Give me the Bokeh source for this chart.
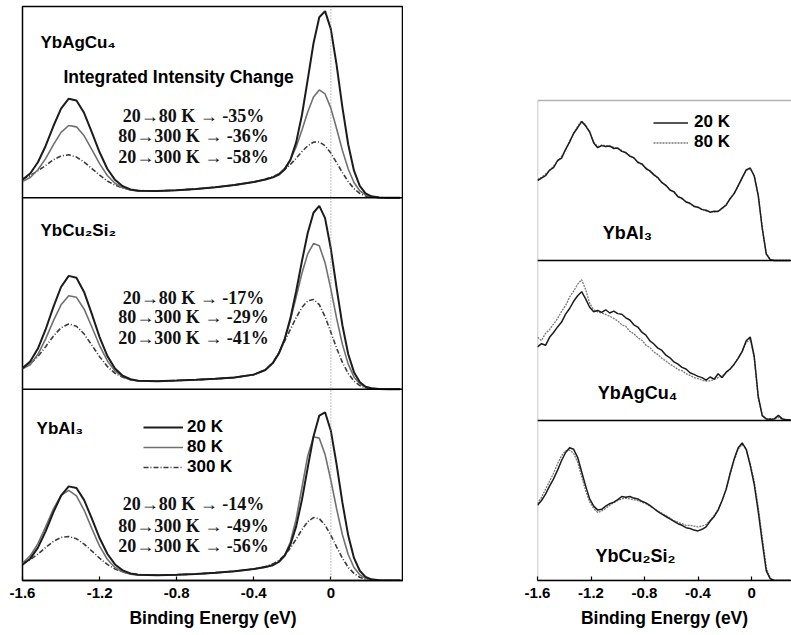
from bokeh.plotting import figure
from bokeh.layouts import row
from bokeh.models import Range1d, Span, Label, Legend, LegendItem, FixedTicker, BoxAnnotation
from bokeh.embed import file_html
from bokeh.resources import INLINE

# ---------------- data: left panel (model curves, intensity in panel units) -------------
energy_left = [-1.60, -1.56, -1.52, -1.48, -1.44, -1.40, -1.36, -1.32, -1.28, -1.24, -1.20, -1.16,
               -1.12, -1.08, -1.04, -1.00, -0.90, -0.80, -0.70, -0.60, -0.50, -0.40, -0.34,
               -0.30, -0.27, -0.24, -0.21, -0.18, -0.15, -0.12, -0.09, -0.06, -0.03, 0.00, 0.03,
               0.06, 0.09, 0.12, 0.15, 0.18, 0.21, 0.25, 0.30, 0.36]

agcu4_20K = [0.095, 0.127, 0.186, 0.271, 0.374, 0.466, 0.518, 0.509, 0.443, 0.342, 0.238, 0.152,
             0.094, 0.061, 0.044, 0.037, 0.036, 0.040, 0.046, 0.055, 0.067, 0.083, 0.096,
             0.107, 0.121, 0.148, 0.198, 0.290, 0.433, 0.618, 0.808, 0.944, 0.976, 0.882, 0.694,
             0.473, 0.280, 0.142, 0.062, 0.023, 0.008, 0.002, 0.0, 0.0]
agcu4_80K = [0.085, 0.106, 0.147, 0.205, 0.277, 0.342, 0.378, 0.371, 0.324, 0.252, 0.179, 0.117,
             0.076, 0.053, 0.041, 0.036, 0.036, 0.040, 0.046, 0.055, 0.067, 0.083, 0.096,
             0.109, 0.126, 0.154, 0.199, 0.266, 0.354, 0.449, 0.527, 0.564, 0.543, 0.469, 0.361,
             0.248, 0.151, 0.080, 0.037, 0.015, 0.006, 0.002, 0.0, 0.0]
agcu4_300K = [0.098, 0.116, 0.142, 0.169, 0.199, 0.219, 0.225, 0.213, 0.187, 0.153, 0.119, 0.088,
              0.066, 0.051, 0.042, 0.038, 0.036, 0.040, 0.046, 0.055, 0.067, 0.083, 0.098,
              0.111, 0.126, 0.148, 0.174, 0.207, 0.242, 0.272, 0.291, 0.292, 0.272, 0.234, 0.184,
              0.132, 0.085, 0.048, 0.023, 0.010, 0.005, 0.002, 0.0, 0.0]

cu2si2_20K = [0.110, 0.144, 0.212, 0.312, 0.429, 0.534, 0.592, 0.582, 0.507, 0.392, 0.272, 0.174,
              0.108, 0.070, 0.052, 0.044, 0.042, 0.045, 0.049, 0.054, 0.061, 0.076, 0.100,
              0.138, 0.186, 0.260, 0.370, 0.512, 0.669, 0.816, 0.922, 0.958, 0.894, 0.734, 0.528,
              0.334, 0.184, 0.089, 0.037, 0.013, 0.005, 0.001, 0.0, 0.0]
cu2si2_80K = [0.106, 0.128, 0.182, 0.263, 0.357, 0.441, 0.488, 0.480, 0.418, 0.325, 0.228, 0.149,
              0.095, 0.065, 0.049, 0.043, 0.042, 0.045, 0.049, 0.054, 0.061, 0.076, 0.100,
              0.138, 0.187, 0.260, 0.361, 0.482, 0.606, 0.707, 0.761, 0.749, 0.661, 0.523, 0.370,
              0.234, 0.131, 0.064, 0.028, 0.011, 0.004, 0.001, 0.0, 0.0]
cu2si2_300K = [0.112, 0.132, 0.171, 0.222, 0.277, 0.321, 0.341, 0.329, 0.288, 0.230, 0.170, 0.119,
               0.083, 0.062, 0.050, 0.044, 0.042, 0.045, 0.049, 0.054, 0.061, 0.076, 0.101,
               0.140, 0.190, 0.251, 0.312, 0.374, 0.427, 0.461, 0.469, 0.442, 0.379, 0.298, 0.214,
               0.140, 0.082, 0.042, 0.019, 0.007, 0.003, 0.001, 0.0, 0.0]

al3_20K = [0.082, 0.114, 0.172, 0.257, 0.356, 0.443, 0.492, 0.483, 0.420, 0.323, 0.222, 0.140,
           0.084, 0.053, 0.037, 0.030, 0.028, 0.030, 0.034, 0.040, 0.048, 0.060, 0.070,
           0.081, 0.098, 0.129, 0.187, 0.283, 0.422, 0.590, 0.753, 0.862, 0.879, 0.783, 0.606,
           0.407, 0.236, 0.118, 0.051, 0.019, 0.006, 0.001, 0.0, 0.0]
al3_80K = [0.091, 0.129, 0.193, 0.280, 0.373, 0.445, 0.471, 0.442, 0.367, 0.271, 0.180, 0.111,
           0.068, 0.044, 0.033, 0.029, 0.028, 0.030, 0.034, 0.040, 0.048, 0.060, 0.070,
           0.079, 0.096, 0.130, 0.201, 0.321, 0.486, 0.651, 0.751, 0.744, 0.659, 0.524, 0.374,
           0.239, 0.136, 0.068, 0.030, 0.012, 0.004, 0.0, 0.0, 0.0]
al3_300K = [0.089, 0.109, 0.138, 0.172, 0.204, 0.225, 0.230, 0.218, 0.190, 0.154, 0.117, 0.084,
            0.060, 0.045, 0.036, 0.031, 0.028, 0.030, 0.034, 0.040, 0.048, 0.060, 0.073,
            0.087, 0.105, 0.132, 0.170, 0.216, 0.266, 0.307, 0.329, 0.323, 0.290, 0.236, 0.175,
            0.117, 0.069, 0.037, 0.017, 0.007, 0.002, 0.0, 0.0, 0.0]

# ---------------- data: right panel (measured spectra) ----------------
energy_right = [-1.60, -1.57, -1.54, -1.51, -1.48, -1.45, -1.42, -1.39, -1.36, -1.33,
                -1.30, -1.27, -1.24, -1.21, -1.18, -1.15, -1.12, -1.09, -1.06, -1.03,
                -1.00, -0.97, -0.94, -0.91, -0.88, -0.85, -0.82, -0.79, -0.76, -0.73,
                -0.70, -0.67, -0.64, -0.61, -0.58, -0.55, -0.52, -0.49, -0.46, -0.43,
                -0.40, -0.37, -0.34, -0.31, -0.28, -0.25, -0.22, -0.19, -0.16, -0.13,
                -0.10, -0.07, -0.04, -0.01, 0.02, 0.05, 0.08, 0.11, 0.14, 0.17,
                0.20, 0.23, 0.26, 0.29]

spec_al3_20K = [0.500, 0.515, 0.530, 0.565, 0.580, 0.625, 0.640, 0.695, 0.740, 0.795,
                0.830, 0.868, 0.840, 0.805, 0.735, 0.705, 0.718, 0.712, 0.716, 0.700,
                0.703, 0.682, 0.675, 0.652, 0.643, 0.612, 0.604, 0.575, 0.560, 0.535,
                0.518, 0.486, 0.470, 0.440, 0.430, 0.398, 0.389, 0.366, 0.358, 0.338,
                0.333, 0.318, 0.314, 0.302, 0.308, 0.306, 0.328, 0.346, 0.388, 0.418,
                0.468, 0.518, 0.566, 0.578, 0.528, 0.405, 0.200, 0.040, 0.005, 0.0,
                0.0, 0.0, 0.0, 0.0]
spec_al3_80K = [0.505, 0.520, 0.540, 0.560, 0.590, 0.620, 0.650, 0.690, 0.748, 0.790,
                0.838, 0.872, 0.848, 0.800, 0.742, 0.712, 0.722, 0.718, 0.712, 0.708,
                0.698, 0.688, 0.670, 0.657, 0.638, 0.618, 0.598, 0.580, 0.556, 0.540,
                0.512, 0.490, 0.466, 0.445, 0.425, 0.402, 0.384, 0.370, 0.353, 0.342,
                0.330, 0.322, 0.310, 0.306, 0.304, 0.310, 0.322, 0.350, 0.384, 0.422,
                0.464, 0.515, 0.562, 0.575, 0.530, 0.410, 0.205, 0.045, 0.006, 0.0,
                0.0, 0.0, 0.0, 0.0]

spec_agcu4_20K = [0.460, 0.480, 0.470, 0.520, 0.550, 0.585, 0.615, 0.665, 0.700, 0.745,
                  0.780, 0.805, 0.760, 0.708, 0.680, 0.688, 0.676, 0.692, 0.672, 0.684,
                  0.668, 0.664, 0.642, 0.628, 0.598, 0.584, 0.552, 0.534, 0.498, 0.478,
                  0.452, 0.438, 0.408, 0.392, 0.366, 0.352, 0.332, 0.322, 0.298, 0.288,
                  0.276, 0.268, 0.252, 0.272, 0.258, 0.292, 0.268, 0.302, 0.322, 0.352,
                  0.388, 0.432, 0.498, 0.522, 0.400, 0.150, 0.030, 0.010, 0.008, 0.010,
                  0.032, 0.010, 0.005, 0.005]
spec_agcu4_80K = [0.520, 0.500, 0.545, 0.568, 0.602, 0.638, 0.682, 0.718, 0.772, 0.808,
                  0.852, 0.880, 0.818, 0.732, 0.692, 0.678, 0.672, 0.662, 0.652, 0.638,
                  0.622, 0.598, 0.588, 0.558, 0.542, 0.518, 0.502, 0.472, 0.456, 0.428,
                  0.412, 0.388, 0.372, 0.352, 0.338, 0.318, 0.312, 0.292, 0.282, 0.268,
                  0.262, 0.252, 0.246, 0.248, 0.256, 0.268, 0.278, 0.298, 0.322, 0.352,
                  0.392, 0.432, 0.488, 0.508, 0.390, 0.140, 0.030, 0.010, 0.012, 0.008,
                  0.020, 0.008, 0.005, 0.005]

spec_cu2si2_20K = [0.470, 0.500, 0.540, 0.590, 0.635, 0.690, 0.750, 0.800, 0.830, 0.820,
                   0.770, 0.680, 0.590, 0.510, 0.465, 0.440, 0.445, 0.465, 0.480, 0.490,
                   0.505, 0.525, 0.520, 0.525, 0.515, 0.510, 0.495, 0.485, 0.470, 0.450,
                   0.430, 0.415, 0.400, 0.385, 0.370, 0.355, 0.345, 0.330, 0.325, 0.315,
                   0.310, 0.320, 0.335, 0.370, 0.400, 0.440, 0.500, 0.570, 0.670, 0.760,
                   0.830, 0.860, 0.820, 0.720, 0.600, 0.430, 0.240, 0.060, 0.010, 0.0,
                   0.0, 0.0, 0.0, 0.0]
spec_cu2si2_80K = [0.480, 0.520, 0.570, 0.620, 0.670, 0.730, 0.780, 0.810, 0.815, 0.795,
                   0.740, 0.650, 0.560, 0.490, 0.450, 0.425, 0.435, 0.450, 0.470, 0.485,
                   0.500, 0.510, 0.515, 0.510, 0.505, 0.500, 0.490, 0.480, 0.465, 0.450,
                   0.435, 0.420, 0.405, 0.390, 0.375, 0.365, 0.355, 0.345, 0.345, 0.340,
                   0.335, 0.340, 0.350, 0.375, 0.405, 0.445, 0.500, 0.570, 0.665, 0.750,
                   0.820, 0.850, 0.820, 0.730, 0.620, 0.460, 0.270, 0.080, 0.015, 0.0,
                   0.0, 0.0, 0.0, 0.0]

tick_values = [-1.6, -1.2, -0.8, -0.4, 0]
tick_labels = ["-1.6", "-1.2", "-0.8", "-0.4", "0"]

left_changes = {
    "YbAgCu4": ["20\u219280 K \u2192 -35%", "80\u2192300 K \u2192 -36%", "20\u2192300 K \u2192 -58%"],
    "YbCu2Si2": ["20\u219280 K \u2192 -17%", "80\u2192300 K \u2192 -29%", "20\u2192300 K \u2192 -41%"],
    "YbAl3": ["20\u219280 K \u2192 -14%", "80\u2192300 K \u2192 -49%", "20\u2192300 K \u2192 -56%"],
}

SANS = "Liberation Sans"
SERIF = "Liberation Serif"
C20, C80, C300 = "#1c1c1c", "#707070", "#3c3c3c"


def style_xaxis(p):
    ax = p.xaxis[0]
    ax.ticker = FixedTicker(ticks=tick_values)
    ax.major_label_overrides = {v: s for v, s in zip(tick_values, tick_labels)}
    ax.major_tick_in = 4
    ax.major_tick_out = 0
    ax.minor_tick_line_color = None
    ax.major_tick_line_width = 1.2
    ax.axis_line_width = 1.5
    ax.major_label_text_font = SANS
    ax.major_label_text_font_style = "bold"
    ax.major_label_text_font_size = "15px"
    ax.major_label_text_color = "black"
    ax.major_label_standoff = 7
    ax.axis_label = "Binding Energy (eV)"
    ax.axis_label_text_font = SANS
    ax.axis_label_text_font_style = "bold"
    ax.axis_label_text_font_size = "17.5px"
    ax.axis_label_text_color = "black"
    ax.axis_label_standoff = 7


def sans_label(p, x, y, text, align="left", size="17px"):
    p.add_layout(Label(x=x, y=y, text=text, text_font=SANS, text_font_style="bold",
                       text_font_size=size, text_align=align, text_baseline="middle",
                       text_color="black"))


# ================= LEFT PANEL =================
left = figure(width=403, height=635, x_range=Range1d(-1.6, 0.377), y_range=Range1d(0, 3),
              output_backend="svg", toolbar_location=None,
              min_border_left=22, min_border_right=0, min_border_top=6, min_border_bottom=55)
left.yaxis.visible = False
left.grid.visible = False
left.outline_line_color = "black"
left.outline_line_width = 1.5
left.background_fill_color = "white"
left.border_fill_color = "white"
style_xaxis(left)

left_sets = [
    ("YbAgCu4", 2, agcu4_20K, agcu4_80K, agcu4_300K),
    ("YbCu2Si2", 1, cu2si2_20K, cu2si2_80K, cu2si2_300K),
    ("YbAl3", 0, al3_20K, al3_80K, al3_300K),
]
legend_renderers = None
for name, off, s20, s80, s300 in left_sets:
    r300 = left.line(energy_left, [v + off for v in s300], line_color=C300, line_width=1.6,
                     line_dash="5 2 1 2")
    r80 = left.line(energy_left, [v + off for v in s80], line_color=C80, line_width=1.6)
    r20 = left.line(energy_left, [v + off for v in s20], line_color=C20, line_width=2.0)
    if name == "YbAl3":
        legend_renderers = (r20, r80, r300)

for loc in (1, 2):
    left.add_layout(Span(location=loc, dimension="width", line_color="black", line_width=1.5))
left.add_layout(Span(location=0, dimension="height", line_color="#8a8a8a", line_width=1,
                     line_dash="1 2"))

# compound names
sans_label(left, -1.507, 2.812, "YbAgCu\u2084")
sans_label(left, -1.507, 1.829, "YbCu\u2082Si\u2082")
sans_label(left, -1.527, 0.794, "YbAl\u2083")
sans_label(left, -0.790, 2.634, "Integrated Intensity Change", align="center", size="17.5px")

ann_y = {"YbAgCu4": [2.430, 2.321, 2.211], "YbCu2Si2": [1.479, 1.375, 1.265],
         "YbAl3": [0.402, 0.287, 0.178]}
for name, lines in left_changes.items():
    for txt, yy in zip(lines, ann_y[name]):
        left.add_layout(Label(x=-0.713, y=yy, text=txt, text_font=SERIF, text_font_style="bold",
                              text_font_size="18px", text_align="center", text_baseline="middle",
                              text_color="#111111"))

lg = Legend(items=[LegendItem(label="20 K", renderers=[legend_renderers[0]]),
                   LegendItem(label="80 K", renderers=[legend_renderers[1]]),
                   LegendItem(label="300 K", renderers=[legend_renderers[2]])],
            location=(121, 103), orientation="vertical", padding=0, margin=0, spacing=0,
            glyph_width=40, glyph_height=20, label_height=20, label_standoff=4,
            label_text_font=SANS, label_text_font_style="bold", label_text_font_size="17px",
            label_text_color="black",
            border_line_color=None, background_fill_alpha=0)
left.add_layout(lg)

# ================= RIGHT PANEL =================
# same borders as the left panel (row aligns frames); the boxed area spans y 0..3
right = figure(width=388, height=635, x_range=Range1d(-1.6, 0.2985), y_range=Range1d(0, 3.5875),
               output_backend="svg", toolbar_location=None,
               min_border_left=134, min_border_right=0, min_border_top=6, min_border_bottom=55)
right.grid.visible = False
right.outline_line_color = None
right.yaxis.visible = False
right.background_fill_color = "white"
right.border_fill_color = "white"
style_xaxis(right)
right.add_layout(BoxAnnotation(left=-1.6, right=0.40, bottom=0, top=3, fill_alpha=0,
                               line_color="black", line_width=1.5))

right_sets = [
    ("YbAl\u2083", 2, spec_al3_20K, spec_al3_80K, 2.175, -0.9275),
    ("YbAgCu\u2084", 1, spec_agcu4_20K, spec_agcu4_80K, 1.175, -0.853),
    ("YbCu\u2082Si\u2082", 0, spec_cu2si2_20K, spec_cu2si2_80K, 0.156, -0.868),
]
rleg = None
for name, off, s20, s80, ly, lx in right_sets:
    r80 = right.line(energy_right, [v + off for v in s80], line_color="#7a7a7a", line_width=1.3,
                     line_dash="2 1")
    r20 = right.line(energy_right, [v + off for v in s20], line_color="#1c1c1c", line_width=1.5)
    if rleg is None:
        rleg = (r20, r80)
    sans_label(right, lx, ly, name, align="center", size="18px")

for loc in (1, 2):
    right.add_layout(Span(location=loc, dimension="width", line_color="black", line_width=1.5))

lg2 = Legend(items=[LegendItem(label="20 K", renderers=[rleg[0]]),
                    LegendItem(label="80 K", renderers=[rleg[1]])],
             location=(116, 428), orientation="vertical", padding=0, margin=0, spacing=0,
             glyph_width=35, glyph_height=19, label_height=19, label_standoff=6,
             label_text_font=SANS, label_text_font_style="bold", label_text_font_size="17px",
             label_text_color="black",
             border_line_color=None, background_fill_alpha=0)
right.add_layout(lg2)

layout = row(left, right, spacing=0)
open("out.html", "w").write(file_html(layout, INLINE))
